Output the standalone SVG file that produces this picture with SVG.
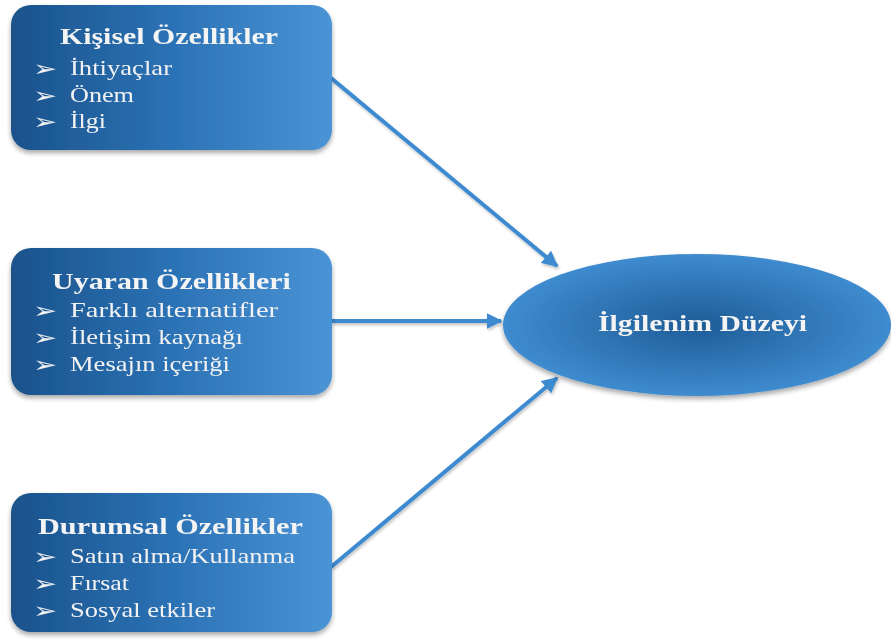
<svg xmlns="http://www.w3.org/2000/svg" width="891" height="643" viewBox="0 0 891 643">
  <style>
    .box { fill: url(#boxFill); }
    .title { font-family: "Liberation Serif", "Times New Roman", serif; font-weight: bold; font-size: 23px; fill: #f4f4f4; }
    .item { font-family: "Liberation Serif", "Times New Roman", serif; font-size: 21px; fill: #f2f2f2; }
    .bullet { font-family: "DejaVu Sans", sans-serif; font-size: 18px; fill: #f2f2f2; }
    .link { stroke: #3c8ad0; stroke-width: 4; fill: none; marker-end: url(#head); }
  </style>
  <defs>
    <linearGradient id="boxFill" x1="0" y1="0" x2="1" y2="0">
      <stop offset="0" stop-color="#1a528b"/>
      <stop offset="0.5" stop-color="#2b72b5"/>
      <stop offset="1" stop-color="#4a94d6"/>
    </linearGradient>
    <radialGradient id="ovalFill" cx="0.5" cy="0.5" r="0.5">
      <stop offset="0" stop-color="#1e5c97"/>
      <stop offset="1" stop-color="#3f8bcf"/>
    </radialGradient>
    <filter id="shade" x="-10%" y="-10%" width="120%" height="130%">
      <feGaussianBlur in="SourceAlpha" stdDeviation="2.5"/>
      <feOffset dx="0" dy="3" result="b"/>
      <feComponentTransfer><feFuncA type="linear" slope="0.35"/></feComponentTransfer>
      <feMerge><feMergeNode/><feMergeNode in="SourceGraphic"/></feMerge>
    </filter>
    <filter id="soft" filterUnits="userSpaceOnUse" x="0" y="0" width="891" height="643">
      <feGaussianBlur in="SourceAlpha" stdDeviation="1.5"/>
      <feOffset dx="1" dy="2" result="b"/>
      <feComponentTransfer><feFuncA type="linear" slope="0.25"/></feComponentTransfer>
      <feMerge><feMergeNode/><feMergeNode in="SourceGraphic"/></feMerge>
    </filter>
    <marker id="head" viewBox="0 0 10 10" refX="9" refY="5" markerWidth="4" markerHeight="4" orient="auto" markerUnits="strokeWidth">
      <path d="M0,0 L10,5 L0,10 Z" fill="#3c8ad0"/>
    </marker>
  </defs>

  <g id="connectors" filter="url(#soft)">
    <line class="link" x1="331" y1="78" x2="557" y2="266"/>
    <line class="link" x1="331" y1="321" x2="501" y2="321"/>
    <line class="link" x1="331" y1="567" x2="557" y2="378"/>
  </g>

  <g id="kisisel" filter="url(#shade)">
    <rect class="box" x="11" y="5" width="321" height="145" rx="20"/>
    <text class="title" transform="translate(60,44) scale(1.3,1)" textLength="167.7" lengthAdjust="spacingAndGlyphs">Kişisel Özellikler</text>
    <text class="bullet" transform="translate(33,76) scale(1.6,1.2)">➢</text>
    <text class="item" transform="translate(70,75) scale(1.33,1)" textLength="76.7" lengthAdjust="spacingAndGlyphs">İhtiyaçlar</text>
    <text class="bullet" transform="translate(33,103) scale(1.6,1.2)">➢</text>
    <text class="item" transform="translate(70,102) scale(1.33,1)" textLength="48.1" lengthAdjust="spacingAndGlyphs">Önem</text>
    <text class="bullet" transform="translate(33,129) scale(1.6,1.2)">➢</text>
    <text class="item" transform="translate(70,128) scale(1.33,1)" textLength="27" lengthAdjust="spacingAndGlyphs">İlgi</text>
  </g>

  <g id="uyaran" filter="url(#shade)">
    <rect class="box" x="11" y="248" width="321" height="147" rx="20"/>
    <text class="title" transform="translate(52,289) scale(1.3,1)" textLength="183.8" lengthAdjust="spacingAndGlyphs">Uyaran Özellikleri</text>
    <text class="bullet" transform="translate(33,318) scale(1.6,1.2)">➢</text>
    <text class="item" transform="translate(70,317) scale(1.33,1)" textLength="156.4" lengthAdjust="spacingAndGlyphs">Farklı alternatifler</text>
    <text class="bullet" transform="translate(33,345) scale(1.6,1.2)">➢</text>
    <text class="item" transform="translate(70,344) scale(1.33,1)" textLength="130" lengthAdjust="spacingAndGlyphs">İletişim kaynağı</text>
    <text class="bullet" transform="translate(33,372) scale(1.6,1.2)">➢</text>
    <text class="item" transform="translate(70,371) scale(1.33,1)" textLength="120.3" lengthAdjust="spacingAndGlyphs">Mesajın içeriği</text>
  </g>

  <g id="durumsal" filter="url(#shade)">
    <rect class="box" x="11" y="493" width="321" height="139" rx="20"/>
    <text class="title" transform="translate(38,534) scale(1.3,1)" textLength="203.8" lengthAdjust="spacingAndGlyphs">Durumsal Özellikler</text>
    <text class="bullet" transform="translate(33,564) scale(1.6,1.2)">➢</text>
    <text class="item" transform="translate(70,563) scale(1.33,1)" textLength="169.2" lengthAdjust="spacingAndGlyphs">Satın alma/Kullanma</text>
    <text class="bullet" transform="translate(33,591) scale(1.6,1.2)">➢</text>
    <text class="item" transform="translate(70,590) scale(1.33,1)" textLength="44.4" lengthAdjust="spacingAndGlyphs">Fırsat</text>
    <text class="bullet" transform="translate(33,618) scale(1.6,1.2)">➢</text>
    <text class="item" transform="translate(70,617) scale(1.33,1)" textLength="109" lengthAdjust="spacingAndGlyphs">Sosyal etkiler</text>
  </g>

  <g id="ilgilenim" filter="url(#shade)">
    <ellipse cx="697" cy="325" rx="194" ry="71" fill="url(#ovalFill)"/>
    <text class="title" transform="translate(598,331) scale(1.3,1)" textLength="160.8" lengthAdjust="spacingAndGlyphs">İlgilenim Düzeyi</text>
  </g>
</svg>
